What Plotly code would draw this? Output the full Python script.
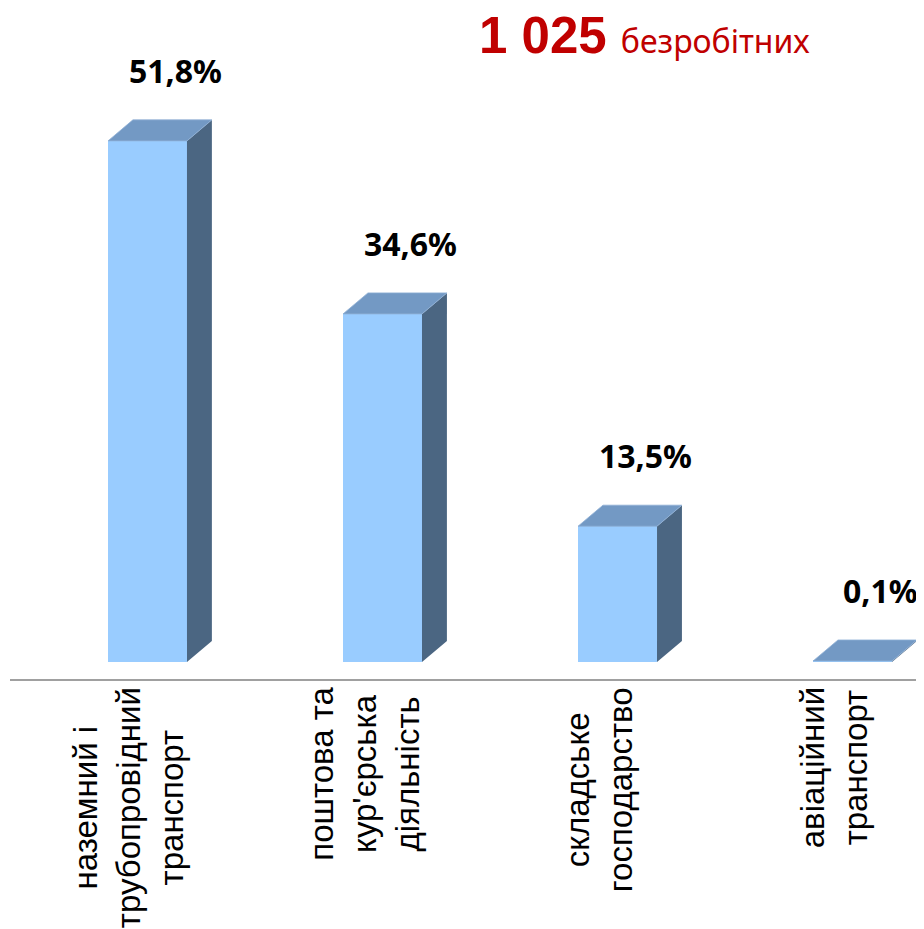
import plotly.graph_objects as go

categories = ["наземний і<br>трубопровідний<br>транспорт",
              "поштова та<br>кур'єрська<br>діяльність",
              "складське<br>господарство",
              "авіаційний<br>транспорт"]
values = [51.8, 34.6, 13.5, 0.1]
value_labels = ["51,8%", "34,6%", "13,5%", "0,1%"]
total_number = "1 025"
total_word = "безробітних"

FRONT = "#99CCFF"
TOP = "#7399C4"
SIDE = "#4B6682"

bw = 0.336      # bar width (category units)
dx = 0.106      # depth offset in x
dy = 2.09       # depth offset in y (value units)

W, H = 916, 921
ML, MB = 2, 250
PLOT_H = H - MB

fig = go.Figure()
xs = list(range(len(values)))

fig.add_trace(go.Bar(x=xs, y=values, width=bw, marker=dict(color=FRONT, line=dict(width=0)),
                     hoverinfo="skip", showlegend=False))

for i, v in zip(xs, values):
    xl, xr = i - bw / 2, i + bw / 2
    # side face
    fig.add_trace(go.Scatter(x=[xr, xr, xr + dx, xr + dx, xr], y=[0, v, v + dy, dy, 0],
                             mode="lines", fill="toself", fillcolor=SIDE,
                             line=dict(width=0, color=SIDE), hoverinfo="skip", showlegend=False))
    # top face
    fig.add_trace(go.Scatter(x=[xl, xr, xr + dx, xl + dx, xl], y=[v, v, v + dy, v + dy, v],
                             mode="lines", fill="toself", fillcolor=TOP,
                             line=dict(width=0.8, color="#8FB0D6"), hoverinfo="skip", showlegend=False))

annotations = []
for i, v, lab in zip(xs, values, value_labels):
    annotations.append(dict(x=i + 0.12, y=v + 7.0, xref="x", yref="y", text="<b>" + lab + "</b>",
                            showarrow=False, xanchor="center", yanchor="middle",
                            font=dict(family="Noto Sans", size=32, color="#000000")))
for i, cat in zip(xs, categories):
    annotations.append(dict(x=i - 0.08, y=-6 / PLOT_H, xref="x", yref="paper", text=cat, textangle=-90,
                            showarrow=False, xanchor="center", yanchor="top", align="center",
                            font=dict(family="Liberation Sans", size=33, color="#000000")))
annotations.append(dict(x=(636 - ML) / (W - ML), y=1 - 28 / PLOT_H, xref="paper", yref="paper",
                        text="<b>" + total_number + "</b> <span style='font-family:Noto Sans;font-size:32px'>" + total_word + "</span>",
                        showarrow=False, xanchor="center", yanchor="middle",
                        font=dict(family="Liberation Sans", size=51, color="#C00000")))

fig.update_layout(
    width=W, height=H,
    margin=dict(l=ML, r=0, t=0, b=MB),
    paper_bgcolor="white", plot_bgcolor="white",
    bargap=0,
    xaxis=dict(range=[-0.585, 3.304], showgrid=False, zeroline=False, showticklabels=False,
               ticks="", showline=True, linecolor="#A0A0A0", linewidth=2, fixedrange=True),
    yaxis=dict(range=[-1.69, 65.01], showgrid=False, zeroline=False, showticklabels=False,
               ticks="", showline=False, fixedrange=True),
    annotations=annotations,
)

fig.write_html("out.html")
